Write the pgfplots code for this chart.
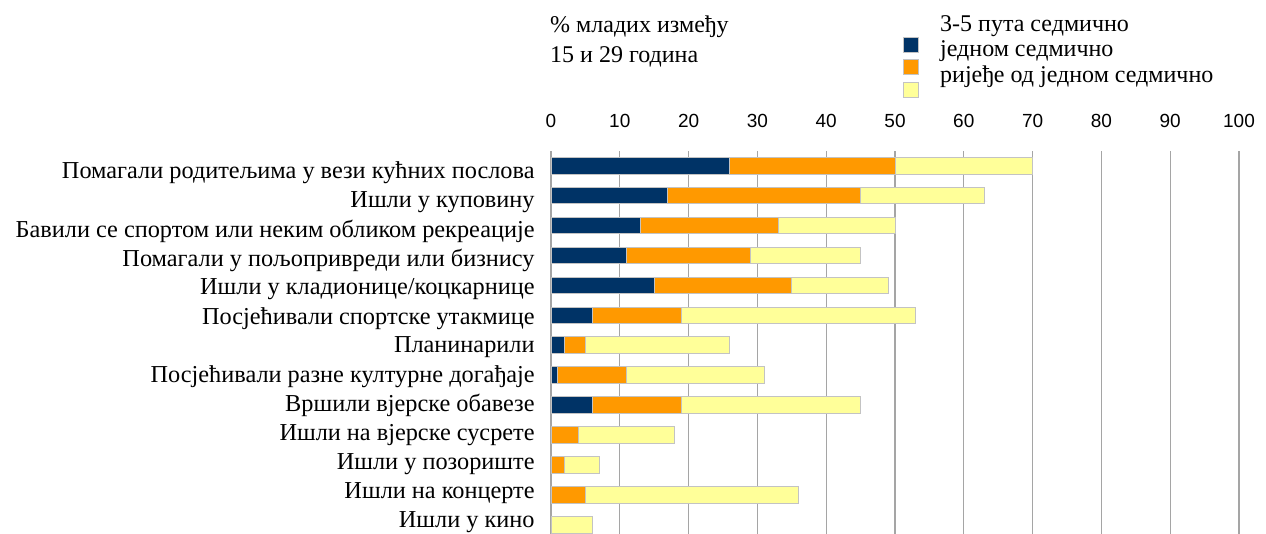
\documentclass[border=0pt]{standalone}
\usepackage{fontspec}
\setmainfont{Liberation Serif}
\newfontfamily\arial{Liberation Sans}
\usepackage{pgfplots}
\pgfplotsset{compat=1.18}
\definecolor{cdark}{RGB}{0,51,102}
\definecolor{corange}{RGB}{255,153,0}
\definecolor{cyellow}{RGB}{255,255,153}
\definecolor{cedge}{RGB}{195,195,195}
\definecolor{cgrid}{RGB}{165,165,165}
\begin{document}
\begin{tikzpicture}[x=1bp,y=1bp]
\useasboundingbox (0,0) rectangle (1266,534);
\begin{axis}[
  at={(551bp,0bp)}, anchor=south west,
  scale only axis, width=688bp, height=383.3bp,
  xmin=0, xmax=100, ymin=-0.3, ymax=12.5,
  xbar stacked, bar width=16.7bp,
  xtick={0,10,...,100}, xticklabel pos=upper,
  ytick={0.102,1.073,2.044,3.015,3.987,4.958,5.929,6.900,7.871,8.842,9.813,10.784,11.755},
  yticklabels={Ишли у кино, Ишли на концерте, Ишли у позориште, Ишли на вјерске сусрете, Вршили вјерске обавезе, Посјећивали разне културне догађаје, Планинарили, Посјећивали спортске утакмице, Ишли у кладионице/коцкарнице, Помагали у пољопривреди или бизнису, Бавили се спортом или неким обликом рекреације, Ишли у куповину, Помагали родитељима у вези кућних послова},
  axis line style={draw=none}, major tick length=0pt,
  xmajorgrids, grid style={cgrid, line width=1.2bp},
  /pgf/number format/assume math mode=true,
  xticklabel style={font=\arial\fontsize{19bp}{22bp}\selectfont, yshift=19.5bp},
  yticklabel style={font=\fontsize{24.3bp}{28bp}\selectfont, anchor=east, xshift=-12.9bp},
  legend image code/.code={\draw[#1] (0bp,-7.5bp) rectangle (15bp,7.5bp);},
  legend style={at={(axis description cs:0.5116,1.2967)}, anchor=north west, draw=none, fill=none, inner sep=0pt, outer sep=0pt, row sep=6.5bp, nodes={inner sep=0pt}},
]
\addplot[fill=cdark, draw=cedge, line width=1bp] coordinates {(26,12) (17,11) (13,10) (11,9) (15,8) (6,7) (2,6) (1,5) (6,4) (0,3) (0,2) (0,1) (0,0)};
\addlegendentry{\mbox{}}
\addplot[fill=corange, draw=cedge, line width=1bp] coordinates {(24,12) (28,11) (20,10) (18,9) (20,8) (13,7) (3,6) (10,5) (13,4) (4,3) (2,2) (5,1) (0,0)};
\addlegendentry{\mbox{}}
\addplot[fill=cyellow, draw=cedge, line width=1bp] coordinates {(20,12) (18,11) (17,10) (16,9) (14,8) (34,7) (21,6) (20,5) (26,4) (14,3) (5,2) (31,1) (6,0)};
\addlegendentry{\mbox{}}
\end{axis}
\begin{scope}[every node/.style={font=\fontsize{24bp}{28bp}\selectfont, inner sep=0pt, anchor=base west}]
\node at (550,501) {\% младих између};
\node at (550,471) {15 и 29 година};
\end{scope}
\begin{scope}[every node/.style={font=\fontsize{24bp}{28bp}\selectfont, inner sep=0pt, anchor=base west}]
\node at (940,502.3) {3-5 пута седмично};
\node at (940,477.3) {једном седмично};
\node at (940,451.3) {ријеђе од једном седмично};
\end{scope}
\end{tikzpicture}
\end{document}
